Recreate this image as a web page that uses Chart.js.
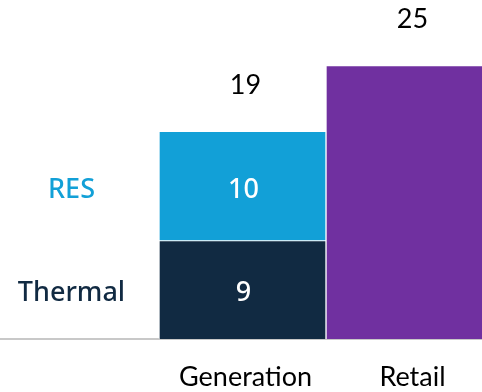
<!DOCTYPE html>
<html>
<head>
<meta charset="utf-8">
<script src="https://cdn.jsdelivr.net/npm/chart.js@4"></script>
<style>
  html, body { margin: 0; padding: 0; background: #fff; overflow: hidden; width: 482px; height: 392px; }
  #wrap { position: absolute; left: -8px; top: 0; width: 501px; height: 392px; }
</style>
</head>
<body>
<div id="wrap"><canvas id="c"></canvas></div>
<script>
const categories = ["", "Generation", "Retail"];
const thermal = [null, 9, null];
const res = [null, 10, null];
const retail = [null, null, 25];
const seriesNames = ["Thermal", "RES", "Retail"];
const colors = ["#112a42", "#12a0d7", "#7030a0"];
const nameColors = ["#112a42", "#12a0d7", null];

const labelFont = "Lato, 'Open Sans', sans-serif";
const segFont = "'Noto Sans', sans-serif";

const labelsPlugin = {
  id: 'labelsPlugin',
  afterDatasetsDraw(chart) {
    const ctx = chart.ctx;
    const x = chart.scales.x, y = chart.scales.y;
    ctx.save();
    ctx.textAlign = 'center';
    ctx.textBaseline = 'middle';
    chart.data.datasets.forEach((ds, di) => {
      const meta = chart.getDatasetMeta(di);
      ds.data.forEach((v, i) => {
        if (v == null) return;
        const el = meta.data[i];
        const mid = (el.y + el.base) / 2 + 4;
        if (ds.inner) {
          ctx.fillStyle = '#ffffff';
          ctx.font = '500 27px ' + segFont;
          ctx.fillText(String(v), el.x + 1, mid);
          if (nameColors[di]) {
            ctx.fillStyle = nameColors[di];
            ctx.font = '500 27px ' + segFont;
            ctx.fillText(ds.label, x.getPixelForValue(0) - 4, mid);
          }
        }
      });
    });
    categories.forEach((c, i) => {
      let total = 0, any = false;
      chart.data.datasets.forEach(ds => { if (ds.data[i] != null) { total += ds.data[i]; any = true; } });
      if (!any) return;
      ctx.fillStyle = '#000000';
      ctx.font = '27px ' + labelFont;
      ctx.fillText(String(total), x.getPixelForValue(i) + 3, y.getPixelForValue(total) - 46);
    });
    ctx.restore();
  }
};

new Chart(document.getElementById('c'), {
  type: 'bar',
  data: {
    labels: categories,
    datasets: [
      { label: seriesNames[0], data: thermal, backgroundColor: colors[0], inner: true },
      { label: seriesNames[1], data: res, backgroundColor: colors[1], inner: true },
      { label: seriesNames[2], data: retail, backgroundColor: colors[2], inner: false }
    ]
  },
  options: {
    responsive: true,
    maintainAspectRatio: false,
    animation: false,
    layout: { padding: 0 },
    datasets: { bar: { barPercentage: 1, categoryPercentage: 1, borderColor: '#ffffff', borderWidth: 1 } },
    plugins: { legend: { display: false }, tooltip: { enabled: false } },
    scales: {
      x: {
        stacked: true,
        grid: { display: false, drawTicks: false },
        border: { display: true, color: '#c8c8c8', width: 2 },
        ticks: { color: '#000000', font: { family: labelFont, size: 27 }, padding: 22, labelOffset: 3 },
        afterFit(scale) { scale.height = 53; }
      },
      y: {
        stacked: true,
        display: false,
        min: 0,
        max: 31
      }
    }
  },
  plugins: [labelsPlugin]
});
</script>
</body>
</html>
